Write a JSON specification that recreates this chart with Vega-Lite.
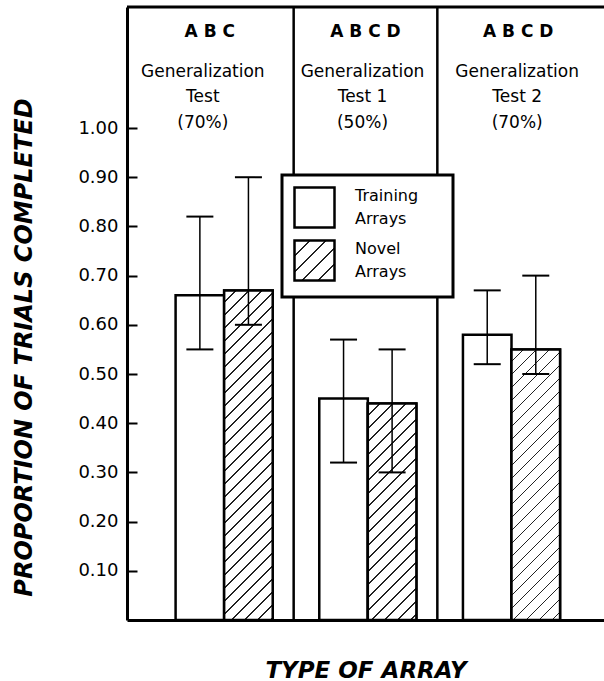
{
  "$schema": "https://vega.github.io/schema/vega-lite/v6.json",
  "width": 477,
  "height": 613,
  "autosize": {"type": "none"},
  "padding": {"left": 127, "top": 7, "right": 0, "bottom": 61},
  "background": "white",
  "config": {
    "view": {"stroke": null},
    "font": "DejaVu Sans",
    "legend": {"strokeWidth": 3},
    "style": {"guide-label": {"lineHeight": 23}}
  },
  "datasets": {
    "bars": [
      {"group": "ABC", "array": "Training Arrays", "mean": 0.66, "lo": 0.55, "hi": 0.82},
      {"group": "ABC", "array": "Novel Arrays", "mean": 0.67, "lo": 0.60, "hi": 0.90},
      {"group": "ABCD Test 1", "array": "Training Arrays", "mean": 0.45, "lo": 0.32, "hi": 0.57},
      {"group": "ABCD Test 1", "array": "Novel Arrays", "mean": 0.44, "lo": 0.30, "hi": 0.55},
      {"group": "ABCD Test 2", "array": "Training Arrays", "mean": 0.58, "lo": 0.52, "hi": 0.67},
      {"group": "ABCD Test 2", "array": "Novel Arrays", "mean": 0.55, "lo": 0.50, "hi": 0.70}
    ],
    "panels": [
      {"group": "ABC", "letters": "A B C", "caption": "Generalization\nTest\n(70%)"},
      {"group": "ABCD Test 1", "letters": "A B C D", "caption": "Generalization\nTest 1\n(50%)"},
      {"group": "ABCD Test 2", "letters": "A B C D", "caption": "Generalization\nTest 2\n(70%)"}
    ]
  },
  "layer": [
    {
      "data": {"name": "bars"},
      "mark": {"type": "bar", "stroke": "black", "strokeWidth": 2.5, "strokeJoin": "miter"},
      "encoding": {
        "x": {
          "field": "group", "type": "nominal",
          "scale": {"domain": ["ABC", "ABCD Test 1", "ABCD Test 2"], "paddingInner": 0, "paddingOuter": 0.16},
          "axis": {
            "title": "TYPE OF ARRAY", "labels": false, "ticks": false, "grid": false,
            "domainColor": "black", "domainWidth": 3,
            "titleFont": "DejaVu Sans", "titleFontSize": 23, "titleFontStyle": "italic", "titleFontWeight": "bold",
            "titleColor": "black", "titleY": 57, "titleBaseline": "alphabetic"
          }
        },
        "xOffset": {
          "field": "array", "type": "nominal",
          "scale": {"domain": ["Training Arrays", "Novel Arrays"], "paddingInner": 0, "paddingOuter": 0.4794, "align": 0.55}
        },
        "y": {
          "field": "mean", "type": "quantitative",
          "scale": {"domain": [0, 1.246], "nice": false},
          "axis": {
            "title": "PROPORTION OF TRIALS COMPLETED",
            "values": [0.1, 0.2, 0.3, 0.4, 0.5, 0.6, 0.7, 0.8, 0.9, 1.0],
            "format": ".2f", "grid": false,
            "domainColor": "black", "domainWidth": 3,
            "tickColor": "black", "tickWidth": 2, "tickSize": -10,
            "labelPadding": 19, "labelFont": "DejaVu Sans", "labelFontSize": 18, "labelColor": "black",
            "titleFont": "DejaVu Sans", "titleFontSize": 24, "titleFontStyle": "italic", "titleFontWeight": "bold",
            "titleColor": "black", "titleAngle": 270, "titleAlign": "center", "titleBaseline": "alphabetic",
            "titleX": -96, "titleY": 340
          }
        },
        "fill": {
          "field": "array", "type": "nominal",
          "scale": {
            "domain": ["Training Arrays", "Novel Arrays"],
            "range": ["white", {"expr": "{gradient: 'linear', x1: 0, y1: 0, x2: 1, y2: 1, stops: [{offset: 0.1775, color: 'white'}, {offset: 0.1775, color: '#222'}, {offset: 0.2, color: '#222'}, {offset: 0.2, color: 'white'}, {offset: 0.3775, color: 'white'}, {offset: 0.3775, color: '#222'}, {offset: 0.4, color: '#222'}, {offset: 0.4, color: 'white'}, {offset: 0.5775, color: 'white'}, {offset: 0.5775, color: '#222'}, {offset: 0.6, color: '#222'}, {offset: 0.6, color: 'white'}, {offset: 0.7775, color: 'white'}, {offset: 0.7775, color: '#222'}, {offset: 0.8, color: '#222'}, {offset: 0.8, color: 'white'}]}"}]
          },
          "legend": {
            "title": null, "orient": "none", "legendX": 155, "legendY": 168, "direction": "vertical",
            "symbolType": "square", "symbolSize": 1600, "symbolStrokeColor": "black", "symbolStrokeWidth": 2.5,
            "labelFont": "DejaVu Sans", "labelFontSize": 16, "labelColor": "black", "labelBaseline": "line-bottom",
            "labelExpr": "[split(datum.label, ' ')[0] + '\u2800\u2800', split(datum.label, ' ')[1]]",
            "labelOffset": 19, "rowPadding": 2,
            "padding": 11, "strokeColor": "black", "fillColor": "white"
          }
        }
      }
    },
    {
      "data": {"name": "bars"},
      "transform": [{"filter": "datum.array == 'Novel Arrays'"}],
      "mark": {"type": "bar", "stroke": "black", "strokeWidth": 2.5, "strokeJoin": "miter"},
      "encoding": {
        "x": {"field": "group", "type": "nominal"},
        "xOffset": {"field": "array", "type": "nominal"},
        "y": {"field": "mean", "type": "quantitative"},
        "fill": {
          "condition": [
            {"test": "datum.group == 'ABC'", "value": {"gradient": "linear", "x1": 0, "y1": 0, "x2": 0.1704, "y2": 1.1582, "stops": [
              {"offset": 0.0287, "color": "white"}, {"offset": 0.0287, "color": "#222"}, {"offset": 0.0333, "color": "#222"}, {"offset": 0.0333, "color": "white"},
              {"offset": 0.0621, "color": "white"}, {"offset": 0.0621, "color": "#222"}, {"offset": 0.0667, "color": "#222"}, {"offset": 0.0667, "color": "white"},
              {"offset": 0.0954, "color": "white"}, {"offset": 0.0954, "color": "#222"}, {"offset": 0.1, "color": "#222"}, {"offset": 0.1, "color": "white"},
              {"offset": 0.1287, "color": "white"}, {"offset": 0.1287, "color": "#222"}, {"offset": 0.1333, "color": "#222"}, {"offset": 0.1333, "color": "white"},
              {"offset": 0.1621, "color": "white"}, {"offset": 0.1621, "color": "#222"}, {"offset": 0.1667, "color": "#222"}, {"offset": 0.1667, "color": "white"},
              {"offset": 0.1954, "color": "white"}, {"offset": 0.1954, "color": "#222"}, {"offset": 0.2, "color": "#222"}, {"offset": 0.2, "color": "white"},
              {"offset": 0.2287, "color": "white"}, {"offset": 0.2287, "color": "#222"}, {"offset": 0.2333, "color": "#222"}, {"offset": 0.2333, "color": "white"},
              {"offset": 0.2621, "color": "white"}, {"offset": 0.2621, "color": "#222"}, {"offset": 0.2667, "color": "#222"}, {"offset": 0.2667, "color": "white"},
              {"offset": 0.2954, "color": "white"}, {"offset": 0.2954, "color": "#222"}, {"offset": 0.3, "color": "#222"}, {"offset": 0.3, "color": "white"},
              {"offset": 0.3287, "color": "white"}, {"offset": 0.3287, "color": "#222"}, {"offset": 0.3333, "color": "#222"}, {"offset": 0.3333, "color": "white"},
              {"offset": 0.3621, "color": "white"}, {"offset": 0.3621, "color": "#222"}, {"offset": 0.3667, "color": "#222"}, {"offset": 0.3667, "color": "white"},
              {"offset": 0.3954, "color": "white"}, {"offset": 0.3954, "color": "#222"}, {"offset": 0.4, "color": "#222"}, {"offset": 0.4, "color": "white"},
              {"offset": 0.4287, "color": "white"}, {"offset": 0.4287, "color": "#222"}, {"offset": 0.4333, "color": "#222"}, {"offset": 0.4333, "color": "white"},
              {"offset": 0.4621, "color": "white"}, {"offset": 0.4621, "color": "#222"}, {"offset": 0.4667, "color": "#222"}, {"offset": 0.4667, "color": "white"},
              {"offset": 0.4954, "color": "white"}, {"offset": 0.4954, "color": "#222"}, {"offset": 0.5, "color": "#222"}, {"offset": 0.5, "color": "white"},
              {"offset": 0.5287, "color": "white"}, {"offset": 0.5287, "color": "#222"}, {"offset": 0.5333, "color": "#222"}, {"offset": 0.5333, "color": "white"},
              {"offset": 0.5621, "color": "white"}, {"offset": 0.5621, "color": "#222"}, {"offset": 0.5667, "color": "#222"}, {"offset": 0.5667, "color": "white"},
              {"offset": 0.5954, "color": "white"}, {"offset": 0.5954, "color": "#222"}, {"offset": 0.6, "color": "#222"}, {"offset": 0.6, "color": "white"},
              {"offset": 0.6287, "color": "white"}, {"offset": 0.6287, "color": "#222"}, {"offset": 0.6333, "color": "#222"}, {"offset": 0.6333, "color": "white"},
              {"offset": 0.6621, "color": "white"}, {"offset": 0.6621, "color": "#222"}, {"offset": 0.6667, "color": "#222"}, {"offset": 0.6667, "color": "white"},
              {"offset": 0.6954, "color": "white"}, {"offset": 0.6954, "color": "#222"}, {"offset": 0.7, "color": "#222"}, {"offset": 0.7, "color": "white"},
              {"offset": 0.7287, "color": "white"}, {"offset": 0.7287, "color": "#222"}, {"offset": 0.7333, "color": "#222"}, {"offset": 0.7333, "color": "white"},
              {"offset": 0.7621, "color": "white"}, {"offset": 0.7621, "color": "#222"}, {"offset": 0.7667, "color": "#222"}, {"offset": 0.7667, "color": "white"},
              {"offset": 0.7954, "color": "white"}, {"offset": 0.7954, "color": "#222"}, {"offset": 0.8, "color": "#222"}, {"offset": 0.8, "color": "white"},
              {"offset": 0.8287, "color": "white"}, {"offset": 0.8287, "color": "#222"}, {"offset": 0.8333, "color": "#222"}, {"offset": 0.8333, "color": "white"},
              {"offset": 0.8621, "color": "white"}, {"offset": 0.8621, "color": "#222"}, {"offset": 0.8667, "color": "#222"}, {"offset": 0.8667, "color": "white"},
              {"offset": 0.8954, "color": "white"}, {"offset": 0.8954, "color": "#222"}, {"offset": 0.9, "color": "#222"}, {"offset": 0.9, "color": "white"},
              {"offset": 0.9287, "color": "white"}, {"offset": 0.9287, "color": "#222"}, {"offset": 0.9333, "color": "#222"}, {"offset": 0.9333, "color": "white"},
              {"offset": 0.9621, "color": "white"}, {"offset": 0.9621, "color": "#222"}, {"offset": 0.9667, "color": "#222"}, {"offset": 0.9667, "color": "white"}
            ]}},
            {"test": "datum.group == 'ABCD Test 1'", "value": {"gradient": "linear", "x1": 0, "y1": 0, "x2": 0.2690, "y2": 1.2007, "stops": [
              {"offset": 0.0410, "color": "white"}, {"offset": 0.0410, "color": "#222"}, {"offset": 0.0476, "color": "#222"}, {"offset": 0.0476, "color": "white"},
              {"offset": 0.0886, "color": "white"}, {"offset": 0.0886, "color": "#222"}, {"offset": 0.0952, "color": "#222"}, {"offset": 0.0952, "color": "white"},
              {"offset": 0.1363, "color": "white"}, {"offset": 0.1363, "color": "#222"}, {"offset": 0.1429, "color": "#222"}, {"offset": 0.1429, "color": "white"},
              {"offset": 0.1839, "color": "white"}, {"offset": 0.1839, "color": "#222"}, {"offset": 0.1905, "color": "#222"}, {"offset": 0.1905, "color": "white"},
              {"offset": 0.2315, "color": "white"}, {"offset": 0.2315, "color": "#222"}, {"offset": 0.2381, "color": "#222"}, {"offset": 0.2381, "color": "white"},
              {"offset": 0.2791, "color": "white"}, {"offset": 0.2791, "color": "#222"}, {"offset": 0.2857, "color": "#222"}, {"offset": 0.2857, "color": "white"},
              {"offset": 0.3267, "color": "white"}, {"offset": 0.3267, "color": "#222"}, {"offset": 0.3333, "color": "#222"}, {"offset": 0.3333, "color": "white"},
              {"offset": 0.3744, "color": "white"}, {"offset": 0.3744, "color": "#222"}, {"offset": 0.3810, "color": "#222"}, {"offset": 0.3810, "color": "white"},
              {"offset": 0.4220, "color": "white"}, {"offset": 0.4220, "color": "#222"}, {"offset": 0.4286, "color": "#222"}, {"offset": 0.4286, "color": "white"},
              {"offset": 0.4696, "color": "white"}, {"offset": 0.4696, "color": "#222"}, {"offset": 0.4762, "color": "#222"}, {"offset": 0.4762, "color": "white"},
              {"offset": 0.5172, "color": "white"}, {"offset": 0.5172, "color": "#222"}, {"offset": 0.5238, "color": "#222"}, {"offset": 0.5238, "color": "white"},
              {"offset": 0.5648, "color": "white"}, {"offset": 0.5648, "color": "#222"}, {"offset": 0.5714, "color": "#222"}, {"offset": 0.5714, "color": "white"},
              {"offset": 0.6124, "color": "white"}, {"offset": 0.6124, "color": "#222"}, {"offset": 0.6190, "color": "#222"}, {"offset": 0.6190, "color": "white"},
              {"offset": 0.6601, "color": "white"}, {"offset": 0.6601, "color": "#222"}, {"offset": 0.6667, "color": "#222"}, {"offset": 0.6667, "color": "white"},
              {"offset": 0.7077, "color": "white"}, {"offset": 0.7077, "color": "#222"}, {"offset": 0.7143, "color": "#222"}, {"offset": 0.7143, "color": "white"},
              {"offset": 0.7553, "color": "white"}, {"offset": 0.7553, "color": "#222"}, {"offset": 0.7619, "color": "#222"}, {"offset": 0.7619, "color": "white"},
              {"offset": 0.8029, "color": "white"}, {"offset": 0.8029, "color": "#222"}, {"offset": 0.8095, "color": "#222"}, {"offset": 0.8095, "color": "white"},
              {"offset": 0.8505, "color": "white"}, {"offset": 0.8505, "color": "#222"}, {"offset": 0.8571, "color": "#222"}, {"offset": 0.8571, "color": "white"},
              {"offset": 0.8982, "color": "white"}, {"offset": 0.8982, "color": "#222"}, {"offset": 0.9048, "color": "#222"}, {"offset": 0.9048, "color": "white"},
              {"offset": 0.9458, "color": "white"}, {"offset": 0.9458, "color": "#222"}, {"offset": 0.9524, "color": "#222"}, {"offset": 0.9524, "color": "white"}
            ]}}
          ],
          "value": {"gradient": "linear", "x1": 0, "y1": 0, "x2": 0.2086, "y2": 1.1637, "stops": [
            {"offset": 0.0345, "color": "white"}, {"offset": 0.0345, "color": "#222"}, {"offset": 0.04, "color": "#222"}, {"offset": 0.04, "color": "white"},
            {"offset": 0.0745, "color": "white"}, {"offset": 0.0745, "color": "#222"}, {"offset": 0.08, "color": "#222"}, {"offset": 0.08, "color": "white"},
            {"offset": 0.1145, "color": "white"}, {"offset": 0.1145, "color": "#222"}, {"offset": 0.12, "color": "#222"}, {"offset": 0.12, "color": "white"},
            {"offset": 0.1545, "color": "white"}, {"offset": 0.1545, "color": "#222"}, {"offset": 0.16, "color": "#222"}, {"offset": 0.16, "color": "white"},
            {"offset": 0.1945, "color": "white"}, {"offset": 0.1945, "color": "#222"}, {"offset": 0.2, "color": "#222"}, {"offset": 0.2, "color": "white"},
            {"offset": 0.2345, "color": "white"}, {"offset": 0.2345, "color": "#222"}, {"offset": 0.24, "color": "#222"}, {"offset": 0.24, "color": "white"},
            {"offset": 0.2745, "color": "white"}, {"offset": 0.2745, "color": "#222"}, {"offset": 0.28, "color": "#222"}, {"offset": 0.28, "color": "white"},
            {"offset": 0.3145, "color": "white"}, {"offset": 0.3145, "color": "#222"}, {"offset": 0.32, "color": "#222"}, {"offset": 0.32, "color": "white"},
            {"offset": 0.3545, "color": "white"}, {"offset": 0.3545, "color": "#222"}, {"offset": 0.36, "color": "#222"}, {"offset": 0.36, "color": "white"},
            {"offset": 0.3945, "color": "white"}, {"offset": 0.3945, "color": "#222"}, {"offset": 0.4, "color": "#222"}, {"offset": 0.4, "color": "white"},
            {"offset": 0.4345, "color": "white"}, {"offset": 0.4345, "color": "#222"}, {"offset": 0.44, "color": "#222"}, {"offset": 0.44, "color": "white"},
            {"offset": 0.4745, "color": "white"}, {"offset": 0.4745, "color": "#222"}, {"offset": 0.48, "color": "#222"}, {"offset": 0.48, "color": "white"},
            {"offset": 0.5145, "color": "white"}, {"offset": 0.5145, "color": "#222"}, {"offset": 0.52, "color": "#222"}, {"offset": 0.52, "color": "white"},
            {"offset": 0.5545, "color": "white"}, {"offset": 0.5545, "color": "#222"}, {"offset": 0.56, "color": "#222"}, {"offset": 0.56, "color": "white"},
            {"offset": 0.5945, "color": "white"}, {"offset": 0.5945, "color": "#222"}, {"offset": 0.6, "color": "#222"}, {"offset": 0.6, "color": "white"},
            {"offset": 0.6345, "color": "white"}, {"offset": 0.6345, "color": "#222"}, {"offset": 0.64, "color": "#222"}, {"offset": 0.64, "color": "white"},
            {"offset": 0.6745, "color": "white"}, {"offset": 0.6745, "color": "#222"}, {"offset": 0.68, "color": "#222"}, {"offset": 0.68, "color": "white"},
            {"offset": 0.7145, "color": "white"}, {"offset": 0.7145, "color": "#222"}, {"offset": 0.72, "color": "#222"}, {"offset": 0.72, "color": "white"},
            {"offset": 0.7545, "color": "white"}, {"offset": 0.7545, "color": "#222"}, {"offset": 0.76, "color": "#222"}, {"offset": 0.76, "color": "white"},
            {"offset": 0.7945, "color": "white"}, {"offset": 0.7945, "color": "#222"}, {"offset": 0.8, "color": "#222"}, {"offset": 0.8, "color": "white"},
            {"offset": 0.8345, "color": "white"}, {"offset": 0.8345, "color": "#222"}, {"offset": 0.84, "color": "#222"}, {"offset": 0.84, "color": "white"},
            {"offset": 0.8745, "color": "white"}, {"offset": 0.8745, "color": "#222"}, {"offset": 0.88, "color": "#222"}, {"offset": 0.88, "color": "white"},
            {"offset": 0.9145, "color": "white"}, {"offset": 0.9145, "color": "#222"}, {"offset": 0.92, "color": "#222"}, {"offset": 0.92, "color": "white"},
            {"offset": 0.9545, "color": "white"}, {"offset": 0.9545, "color": "#222"}, {"offset": 0.96, "color": "#222"}, {"offset": 0.96, "color": "white"}
          ]}
        }
      }
    },
    {
      "data": {"name": "bars"},
      "mark": {"type": "rule", "color": "black", "strokeWidth": 1.5},
      "encoding": {
        "x": {"field": "group", "type": "nominal"},
        "xOffset": {"field": "array", "type": "nominal"},
        "y": {"field": "lo", "type": "quantitative"},
        "y2": {"field": "hi"}
      }
    },
    {
      "data": {"name": "bars"},
      "mark": {"type": "tick", "color": "black", "opacity": 1, "size": 27, "thickness": 2},
      "encoding": {
        "x": {"field": "group", "type": "nominal"},
        "xOffset": {"field": "array", "type": "nominal"},
        "y": {"field": "hi", "type": "quantitative"}
      }
    },
    {
      "data": {"name": "bars"},
      "mark": {"type": "tick", "color": "black", "opacity": 1, "size": 27, "thickness": 2},
      "encoding": {
        "x": {"field": "group", "type": "nominal"},
        "xOffset": {"field": "array", "type": "nominal"},
        "y": {"field": "lo", "type": "quantitative"}
      }
    },
    {
      "data": {"name": "panels"},
      "transform": [{"filter": "datum.group != 'ABC'"}],
      "mark": {"type": "rule", "color": "black", "strokeWidth": 2.5},
      "encoding": {
        "x": {"field": "group", "type": "nominal", "bandPosition": 0},
        "y": {"datum": 0, "type": "quantitative"},
        "y2": {"datum": 1.246}
      }
    },
    {
      "data": {"name": "panels"},
      "transform": [{"filter": "datum.group == 'ABC'"}],
      "mark": {"type": "rule", "color": "black", "strokeWidth": 3},
      "encoding": {
        "y": {"datum": 1.246, "type": "quantitative"}
      }
    },
    {
      "data": {"name": "panels"},
      "transform": [{"filter": "datum.group == 'ABC'"}],
      "mark": {"type": "text", "font": "DejaVu Sans", "fontSize": 17, "fontWeight": "bold", "color": "black", "align": "center", "baseline": "alphabetic", "dx": -12},
      "encoding": {
        "x": {"field": "group", "type": "nominal"},
        "y": {"datum": 1.185, "type": "quantitative"},
        "text": {"field": "letters"}
      }
    },
    {
      "data": {"name": "panels"},
      "transform": [{"filter": "datum.group == 'ABCD Test 1'"}],
      "mark": {"type": "text", "font": "DejaVu Sans", "fontSize": 17, "fontWeight": "bold", "color": "black", "align": "center", "baseline": "alphabetic", "dx": 0},
      "encoding": {
        "x": {"field": "group", "type": "nominal"},
        "y": {"datum": 1.185, "type": "quantitative"},
        "text": {"field": "letters"}
      }
    },
    {
      "data": {"name": "panels"},
      "transform": [{"filter": "datum.group == 'ABCD Test 2'"}],
      "mark": {"type": "text", "font": "DejaVu Sans", "fontSize": 17, "fontWeight": "bold", "color": "black", "align": "center", "baseline": "alphabetic", "dx": 9},
      "encoding": {
        "x": {"field": "group", "type": "nominal"},
        "y": {"datum": 1.185, "type": "quantitative"},
        "text": {"field": "letters"}
      }
    },
    {
      "data": {"name": "panels"},
      "transform": [{"filter": "datum.group == 'ABC'"}],
      "mark": {"type": "text", "font": "DejaVu Sans", "fontSize": 17, "color": "black", "align": "center", "baseline": "alphabetic", "lineBreak": "\n", "lineHeight": 25.5, "dx": -19},
      "encoding": {
        "x": {"field": "group", "type": "nominal"},
        "y": {"datum": 1.104, "type": "quantitative"},
        "text": {"field": "caption"}
      }
    },
    {
      "data": {"name": "panels"},
      "transform": [{"filter": "datum.group == 'ABCD Test 1'"}],
      "mark": {"type": "text", "font": "DejaVu Sans", "fontSize": 17, "color": "black", "align": "center", "baseline": "alphabetic", "lineBreak": "\n", "lineHeight": 25.5, "dx": -3},
      "encoding": {
        "x": {"field": "group", "type": "nominal"},
        "y": {"datum": 1.104, "type": "quantitative"},
        "text": {"field": "caption"}
      }
    },
    {
      "data": {"name": "panels"},
      "transform": [{"filter": "datum.group == 'ABCD Test 2'"}],
      "mark": {"type": "text", "font": "DejaVu Sans", "fontSize": 17, "color": "black", "align": "center", "baseline": "alphabetic", "lineBreak": "\n", "lineHeight": 25.5, "dx": 8},
      "encoding": {
        "x": {"field": "group", "type": "nominal"},
        "y": {"datum": 1.104, "type": "quantitative"},
        "text": {"field": "caption"}
      }
    }
  ]
}
